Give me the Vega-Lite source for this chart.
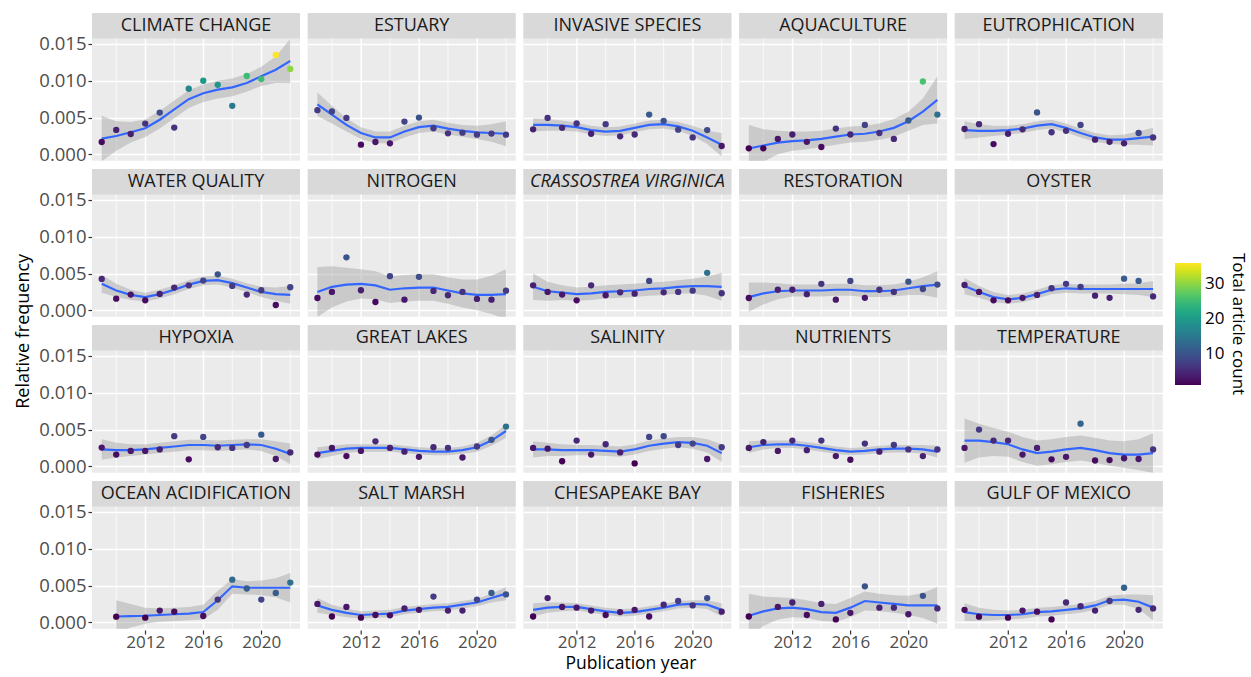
{
"$schema":"https://vega.github.io/schema/vega-lite/v6.json",
"padding":{"left":14,"top":12,"right":5,"bottom":0},
"background":"#FFFFFF",
"title":{"text":"Publication year","orient":"bottom","anchor":"middle","frame":"bounds","fontSize":17.5,"fontWeight":"normal","color":"#000000","offset":5},
"data":{"values":[
{"t":"CLIMATE CHANGE","yr":2009,"f":0.00168,"n":2,"m":0.00214,"lo":-0.00096,"hi":0.00524},
{"t":"CLIMATE CHANGE","yr":2010,"f":0.00332,"n":4,"m":0.0025,"lo":0.0005,"hi":0.0045},
{"t":"CLIMATE CHANGE","yr":2011,"f":0.00277,"n":4,"m":0.003,"lo":0.0016,"hi":0.0044},
{"t":"CLIMATE CHANGE","yr":2012,"f":0.00418,"n":6,"m":0.00355,"lo":0.00235,"hi":0.00475},
{"t":"CLIMATE CHANGE","yr":2013,"f":0.00568,"n":9,"m":0.0047,"lo":0.0035,"hi":0.0059},
{"t":"CLIMATE CHANGE","yr":2014,"f":0.00364,"n":6,"m":0.0061,"lo":0.0049,"hi":0.0073},
{"t":"CLIMATE CHANGE","yr":2015,"f":0.00891,"n":17,"m":0.0075,"lo":0.0063,"hi":0.0087},
{"t":"CLIMATE CHANGE","yr":2016,"f":0.01,"n":20,"m":0.0083,"lo":0.0071,"hi":0.0095},
{"t":"CLIMATE CHANGE","yr":2017,"f":0.00945,"n":19,"m":0.0088,"lo":0.0076,"hi":0.01},
{"t":"CLIMATE CHANGE","yr":2018,"f":0.00659,"n":15,"m":0.0091,"lo":0.0079,"hi":0.0103},
{"t":"CLIMATE CHANGE","yr":2019,"f":0.01064,"n":25,"m":0.0097,"lo":0.0085,"hi":0.0109},
{"t":"CLIMATE CHANGE","yr":2020,"f":0.01023,"n":25,"m":0.0106,"lo":0.0093,"hi":0.0119},
{"t":"CLIMATE CHANGE","yr":2021,"f":0.0135,"n":36,"m":0.0115,"lo":0.0097,"hi":0.0133},
{"t":"CLIMATE CHANGE","yr":2022,"f":0.0116,"n":30,"m":0.0127,"lo":0.0097,"hi":0.0157},
{"t":"ESTUARY","yr":2009,"f":0.006,"n":7,"m":0.0068,"lo":0.0052,"hi":0.0084},
{"t":"ESTUARY","yr":2010,"f":0.00582,"n":8,"m":0.0054,"lo":0.0042,"hi":0.0066},
{"t":"ESTUARY","yr":2011,"f":0.00495,"n":7,"m":0.004,"lo":0.0031,"hi":0.0049},
{"t":"ESTUARY","yr":2012,"f":0.00132,"n":2,"m":0.0029,"lo":0.0021,"hi":0.0037},
{"t":"ESTUARY","yr":2013,"f":0.00168,"n":3,"m":0.0023,"lo":0.0015,"hi":0.0031},
{"t":"ESTUARY","yr":2014,"f":0.0015,"n":3,"m":0.0023,"lo":0.0015,"hi":0.0031},
{"t":"ESTUARY","yr":2015,"f":0.00445,"n":8,"m":0.0031,"lo":0.0023,"hi":0.0039},
{"t":"ESTUARY","yr":2016,"f":0.005,"n":10,"m":0.0037,"lo":0.0029,"hi":0.0045},
{"t":"ESTUARY","yr":2017,"f":0.00355,"n":7,"m":0.0039,"lo":0.0031,"hi":0.0047},
{"t":"ESTUARY","yr":2018,"f":0.00286,"n":6,"m":0.0035,"lo":0.0027,"hi":0.0043},
{"t":"ESTUARY","yr":2019,"f":0.00295,"n":7,"m":0.0032,"lo":0.0024,"hi":0.004},
{"t":"ESTUARY","yr":2020,"f":0.00268,"n":7,"m":0.003,"lo":0.0021,"hi":0.0039},
{"t":"ESTUARY","yr":2021,"f":0.00282,"n":7,"m":0.0029,"lo":0.0017,"hi":0.0041},
{"t":"ESTUARY","yr":2022,"f":0.00268,"n":7,"m":0.0028,"lo":0.0011,"hi":0.0045},
{"t":"INVASIVE SPECIES","yr":2009,"f":0.0034,"n":4,"m":0.004,"lo":0.0031,"hi":0.0049},
{"t":"INVASIVE SPECIES","yr":2010,"f":0.00495,"n":6,"m":0.004,"lo":0.0032,"hi":0.0048},
{"t":"INVASIVE SPECIES","yr":2011,"f":0.0036,"n":5,"m":0.0039,"lo":0.0032,"hi":0.0046},
{"t":"INVASIVE SPECIES","yr":2012,"f":0.0042,"n":6,"m":0.0037,"lo":0.0031,"hi":0.0043},
{"t":"INVASIVE SPECIES","yr":2013,"f":0.0028,"n":4,"m":0.0033,"lo":0.0027,"hi":0.0039},
{"t":"INVASIVE SPECIES","yr":2014,"f":0.0041,"n":7,"m":0.0031,"lo":0.0025,"hi":0.0037},
{"t":"INVASIVE SPECIES","yr":2015,"f":0.00245,"n":5,"m":0.0032,"lo":0.0026,"hi":0.0038},
{"t":"INVASIVE SPECIES","yr":2016,"f":0.0027,"n":5,"m":0.0036,"lo":0.003,"hi":0.0042},
{"t":"INVASIVE SPECIES","yr":2017,"f":0.0054,"n":11,"m":0.004,"lo":0.0034,"hi":0.0046},
{"t":"INVASIVE SPECIES","yr":2018,"f":0.00455,"n":10,"m":0.0041,"lo":0.0035,"hi":0.0047},
{"t":"INVASIVE SPECIES","yr":2019,"f":0.00336,"n":8,"m":0.0038,"lo":0.0032,"hi":0.0044},
{"t":"INVASIVE SPECIES","yr":2020,"f":0.0023,"n":6,"m":0.0032,"lo":0.0025,"hi":0.0039},
{"t":"INVASIVE SPECIES","yr":2021,"f":0.0033,"n":9,"m":0.0023,"lo":0.0014,"hi":0.0032},
{"t":"INVASIVE SPECIES","yr":2022,"f":0.00114,"n":3,"m":0.0013,"lo":-0.0003,"hi":0.0029},
{"t":"AQUACULTURE","yr":2009,"f":0.00082,"n":1,"m":0.0008,"lo":-0.0024,"hi":0.004},
{"t":"AQUACULTURE","yr":2010,"f":0.00082,"n":1,"m":0.0012,"lo":-0.001,"hi":0.0034},
{"t":"AQUACULTURE","yr":2011,"f":0.0021,"n":3,"m":0.0016,"lo":0.0,"hi":0.0032},
{"t":"AQUACULTURE","yr":2012,"f":0.0027,"n":4,"m":0.0018,"lo":0.0005,"hi":0.0031},
{"t":"AQUACULTURE","yr":2013,"f":0.0017,"n":3,"m":0.0019,"lo":0.0007,"hi":0.0031},
{"t":"AQUACULTURE","yr":2014,"f":0.001,"n":2,"m":0.0021,"lo":0.001,"hi":0.0032},
{"t":"AQUACULTURE","yr":2015,"f":0.0035,"n":6,"m":0.0024,"lo":0.0013,"hi":0.0035},
{"t":"AQUACULTURE","yr":2016,"f":0.0027,"n":5,"m":0.0027,"lo":0.0016,"hi":0.0038},
{"t":"AQUACULTURE","yr":2017,"f":0.004,"n":8,"m":0.0028,"lo":0.0017,"hi":0.0039},
{"t":"AQUACULTURE","yr":2018,"f":0.0029,"n":6,"m":0.0031,"lo":0.002,"hi":0.0042},
{"t":"AQUACULTURE","yr":2019,"f":0.0021,"n":5,"m":0.0036,"lo":0.0024,"hi":0.0048},
{"t":"AQUACULTURE","yr":2020,"f":0.0046,"n":11,"m":0.0045,"lo":0.0032,"hi":0.0058},
{"t":"AQUACULTURE","yr":2021,"f":0.0099,"n":26,"m":0.0058,"lo":0.004,"hi":0.0076},
{"t":"AQUACULTURE","yr":2022,"f":0.0054,"n":14,"m":0.0074,"lo":0.0042,"hi":0.0106},
{"t":"EUTROPHICATION","yr":2009,"f":0.00345,"n":4,"m":0.0033,"lo":0.0021,"hi":0.0045},
{"t":"EUTROPHICATION","yr":2010,"f":0.0041,"n":5,"m":0.0032,"lo":0.0023,"hi":0.0041},
{"t":"EUTROPHICATION","yr":2011,"f":0.0014,"n":2,"m":0.0032,"lo":0.0025,"hi":0.0039},
{"t":"EUTROPHICATION","yr":2012,"f":0.0028,"n":4,"m":0.0033,"lo":0.0027,"hi":0.0039},
{"t":"EUTROPHICATION","yr":2013,"f":0.0034,"n":5,"m":0.0035,"lo":0.0029,"hi":0.0041},
{"t":"EUTROPHICATION","yr":2014,"f":0.0057,"n":10,"m":0.0039,"lo":0.0033,"hi":0.0045},
{"t":"EUTROPHICATION","yr":2015,"f":0.003,"n":6,"m":0.0041,"lo":0.0035,"hi":0.0047},
{"t":"EUTROPHICATION","yr":2016,"f":0.0032,"n":6,"m":0.0036,"lo":0.003,"hi":0.0042},
{"t":"EUTROPHICATION","yr":2017,"f":0.004,"n":8,"m":0.0029,"lo":0.0023,"hi":0.0035},
{"t":"EUTROPHICATION","yr":2018,"f":0.002,"n":4,"m":0.0023,"lo":0.0017,"hi":0.0029},
{"t":"EUTROPHICATION","yr":2019,"f":0.0017,"n":4,"m":0.002,"lo":0.0014,"hi":0.0026},
{"t":"EUTROPHICATION","yr":2020,"f":0.0015,"n":4,"m":0.002,"lo":0.0013,"hi":0.0027},
{"t":"EUTROPHICATION","yr":2021,"f":0.0029,"n":8,"m":0.0022,"lo":0.0013,"hi":0.0031},
{"t":"EUTROPHICATION","yr":2022,"f":0.0023,"n":6,"m":0.0024,"lo":0.0012,"hi":0.0036},
{"t":"WATER QUALITY","yr":2009,"f":0.00427,"n":5,"m":0.0036,"lo":0.0024,"hi":0.0048},
{"t":"WATER QUALITY","yr":2010,"f":0.00159,"n":2,"m":0.0027,"lo":0.0018,"hi":0.0036},
{"t":"WATER QUALITY","yr":2011,"f":0.00214,"n":3,"m":0.0021,"lo":0.0014,"hi":0.0028},
{"t":"WATER QUALITY","yr":2012,"f":0.00136,"n":2,"m":0.0018,"lo":0.0012,"hi":0.0024},
{"t":"WATER QUALITY","yr":2013,"f":0.00223,"n":4,"m":0.0022,"lo":0.0016,"hi":0.0028},
{"t":"WATER QUALITY","yr":2014,"f":0.00309,"n":5,"m":0.0028,"lo":0.0022,"hi":0.0034},
{"t":"WATER QUALITY","yr":2015,"f":0.0034,"n":6,"m":0.0035,"lo":0.0029,"hi":0.0041},
{"t":"WATER QUALITY","yr":2016,"f":0.00405,"n":8,"m":0.004,"lo":0.0034,"hi":0.0046},
{"t":"WATER QUALITY","yr":2017,"f":0.0049,"n":10,"m":0.0041,"lo":0.0035,"hi":0.0047},
{"t":"WATER QUALITY","yr":2018,"f":0.00332,"n":7,"m":0.0037,"lo":0.0031,"hi":0.0043},
{"t":"WATER QUALITY","yr":2019,"f":0.00214,"n":5,"m":0.0031,"lo":0.0025,"hi":0.0037},
{"t":"WATER QUALITY","yr":2020,"f":0.00273,"n":7,"m":0.0025,"lo":0.0018,"hi":0.0032},
{"t":"WATER QUALITY","yr":2021,"f":0.00073,"n":2,"m":0.0022,"lo":0.0013,"hi":0.0031},
{"t":"WATER QUALITY","yr":2022,"f":0.00314,"n":8,"m":0.0021,"lo":0.0009,"hi":0.0033},
{"t":"NITROGEN","yr":2009,"f":0.00168,"n":2,"m":0.0025,"lo":-0.0009,"hi":0.0059},
{"t":"NITROGEN","yr":2010,"f":0.0025,"n":3,"m":0.0032,"lo":0.0004,"hi":0.006},
{"t":"NITROGEN","yr":2011,"f":0.0072,"n":10,"m":0.0035,"lo":0.0012,"hi":0.0058},
{"t":"NITROGEN","yr":2012,"f":0.00273,"n":4,"m":0.0036,"lo":0.0016,"hi":0.0056},
{"t":"NITROGEN","yr":2013,"f":0.00114,"n":2,"m":0.0034,"lo":0.0015,"hi":0.0053},
{"t":"NITROGEN","yr":2014,"f":0.00464,"n":8,"m":0.0028,"lo":0.001,"hi":0.0046},
{"t":"NITROGEN","yr":2015,"f":0.00145,"n":3,"m":0.003,"lo":0.0012,"hi":0.0048},
{"t":"NITROGEN","yr":2016,"f":0.00455,"n":9,"m":0.0031,"lo":0.0013,"hi":0.0049},
{"t":"NITROGEN","yr":2017,"f":0.00264,"n":5,"m":0.0031,"lo":0.0013,"hi":0.0049},
{"t":"NITROGEN","yr":2018,"f":0.00205,"n":5,"m":0.0027,"lo":0.0009,"hi":0.0045},
{"t":"NITROGEN","yr":2019,"f":0.0025,"n":6,"m":0.0023,"lo":0.0004,"hi":0.0042},
{"t":"NITROGEN","yr":2020,"f":0.00155,"n":4,"m":0.0021,"lo":0.0,"hi":0.0042},
{"t":"NITROGEN","yr":2021,"f":0.00145,"n":4,"m":0.0021,"lo":-0.0005,"hi":0.0047},
{"t":"NITROGEN","yr":2022,"f":0.00268,"n":7,"m":0.0022,"lo":-0.0012,"hi":0.0056},
{"t":"CRASSOSTREA VIRGINICA","yr":2009,"f":0.0034,"n":4,"m":0.0032,"lo":0.0014,"hi":0.005},
{"t":"CRASSOSTREA VIRGINICA","yr":2010,"f":0.0025,"n":3,"m":0.0026,"lo":0.0013,"hi":0.0039},
{"t":"CRASSOSTREA VIRGINICA","yr":2011,"f":0.00214,"n":3,"m":0.0024,"lo":0.0014,"hi":0.0034},
{"t":"CRASSOSTREA VIRGINICA","yr":2012,"f":0.00136,"n":2,"m":0.0022,"lo":0.0013,"hi":0.0031},
{"t":"CRASSOSTREA VIRGINICA","yr":2013,"f":0.0034,"n":5,"m":0.0023,"lo":0.0014,"hi":0.0032},
{"t":"CRASSOSTREA VIRGINICA","yr":2014,"f":0.00205,"n":3,"m":0.0025,"lo":0.0016,"hi":0.0034},
{"t":"CRASSOSTREA VIRGINICA","yr":2015,"f":0.00245,"n":5,"m":0.0026,"lo":0.0017,"hi":0.0035},
{"t":"CRASSOSTREA VIRGINICA","yr":2016,"f":0.00227,"n":4,"m":0.0027,"lo":0.0018,"hi":0.0036},
{"t":"CRASSOSTREA VIRGINICA","yr":2017,"f":0.004,"n":8,"m":0.0029,"lo":0.002,"hi":0.0038},
{"t":"CRASSOSTREA VIRGINICA","yr":2018,"f":0.00245,"n":5,"m":0.003,"lo":0.0021,"hi":0.0039},
{"t":"CRASSOSTREA VIRGINICA","yr":2019,"f":0.0025,"n":6,"m":0.0032,"lo":0.0023,"hi":0.0041},
{"t":"CRASSOSTREA VIRGINICA","yr":2020,"f":0.00268,"n":7,"m":0.0033,"lo":0.0023,"hi":0.0043},
{"t":"CRASSOSTREA VIRGINICA","yr":2021,"f":0.0051,"n":14,"m":0.0033,"lo":0.002,"hi":0.0046},
{"t":"CRASSOSTREA VIRGINICA","yr":2022,"f":0.00232,"n":6,"m":0.0032,"lo":0.0013,"hi":0.0051},
{"t":"RESTORATION","yr":2009,"f":0.00168,"n":2,"m":0.0018,"lo":-0.0002,"hi":0.0038},
{"t":"RESTORATION","yr":2010,"m":0.0023,"lo":0.0008,"hi":0.0038},
{"t":"RESTORATION","yr":2011,"f":0.0028,"n":4,"m":0.0026,"lo":0.0015,"hi":0.0037},
{"t":"RESTORATION","yr":2012,"f":0.0028,"n":4,"m":0.0027,"lo":0.0019,"hi":0.0035},
{"t":"RESTORATION","yr":2013,"f":0.0022,"n":4,"m":0.0027,"lo":0.0019,"hi":0.0035},
{"t":"RESTORATION","yr":2014,"f":0.0036,"n":6,"m":0.0027,"lo":0.0019,"hi":0.0035},
{"t":"RESTORATION","yr":2015,"f":0.00145,"n":3,"m":0.0028,"lo":0.002,"hi":0.0036},
{"t":"RESTORATION","yr":2016,"f":0.004,"n":8,"m":0.0028,"lo":0.002,"hi":0.0036},
{"t":"RESTORATION","yr":2017,"f":0.0017,"n":3,"m":0.0026,"lo":0.0018,"hi":0.0034},
{"t":"RESTORATION","yr":2018,"f":0.0028,"n":6,"m":0.0026,"lo":0.0018,"hi":0.0034},
{"t":"RESTORATION","yr":2019,"f":0.0025,"n":6,"m":0.0027,"lo":0.0019,"hi":0.0035},
{"t":"RESTORATION","yr":2020,"f":0.0039,"n":10,"m":0.003,"lo":0.0021,"hi":0.0039},
{"t":"RESTORATION","yr":2021,"f":0.0029,"n":8,"m":0.0033,"lo":0.0021,"hi":0.0045},
{"t":"RESTORATION","yr":2022,"f":0.0035,"n":9,"m":0.0035,"lo":0.0017,"hi":0.0053},
{"t":"OYSTER","yr":2009,"f":0.00345,"n":4,"m":0.0033,"lo":0.0022,"hi":0.0044},
{"t":"OYSTER","yr":2010,"f":0.0025,"n":3,"m":0.0025,"lo":0.0017,"hi":0.0033},
{"t":"OYSTER","yr":2011,"f":0.00136,"n":2,"m":0.0018,"lo":0.0011,"hi":0.0025},
{"t":"OYSTER","yr":2012,"f":0.00136,"n":2,"m":0.0015,"lo":0.0009,"hi":0.0021},
{"t":"OYSTER","yr":2013,"f":0.0017,"n":3,"m":0.0017,"lo":0.0011,"hi":0.0023},
{"t":"OYSTER","yr":2014,"f":0.0021,"n":4,"m":0.0022,"lo":0.0016,"hi":0.0028},
{"t":"OYSTER","yr":2015,"f":0.003,"n":6,"m":0.0028,"lo":0.0022,"hi":0.0034},
{"t":"OYSTER","yr":2016,"f":0.0036,"n":7,"m":0.003,"lo":0.0024,"hi":0.0036},
{"t":"OYSTER","yr":2017,"f":0.0032,"n":7,"m":0.0029,"lo":0.0023,"hi":0.0035},
{"t":"OYSTER","yr":2018,"f":0.002,"n":4,"m":0.0029,"lo":0.0023,"hi":0.0035},
{"t":"OYSTER","yr":2019,"f":0.0017,"n":4,"m":0.0029,"lo":0.0023,"hi":0.0035},
{"t":"OYSTER","yr":2020,"f":0.0043,"n":11,"m":0.0029,"lo":0.0022,"hi":0.0036},
{"t":"OYSTER","yr":2021,"f":0.004,"n":11,"m":0.0029,"lo":0.0021,"hi":0.0037},
{"t":"OYSTER","yr":2022,"f":0.0019,"n":5,"m":0.0029,"lo":0.0018,"hi":0.004},
{"t":"HYPOXIA","yr":2009,"f":0.00255,"n":3,"m":0.0023,"lo":0.0009,"hi":0.0037},
{"t":"HYPOXIA","yr":2010,"f":0.0016,"n":2,"m":0.0022,"lo":0.0012,"hi":0.0032},
{"t":"HYPOXIA","yr":2011,"f":0.0021,"n":3,"m":0.0022,"lo":0.0014,"hi":0.003},
{"t":"HYPOXIA","yr":2012,"f":0.0021,"n":3,"m":0.0023,"lo":0.0016,"hi":0.003},
{"t":"HYPOXIA","yr":2013,"f":0.0023,"n":4,"m":0.0025,"lo":0.0018,"hi":0.0032},
{"t":"HYPOXIA","yr":2014,"f":0.0041,"n":7,"m":0.0027,"lo":0.002,"hi":0.0034},
{"t":"HYPOXIA","yr":2015,"f":0.00095,"n":2,"m":0.0029,"lo":0.0022,"hi":0.0036},
{"t":"HYPOXIA","yr":2016,"f":0.004,"n":8,"m":0.0029,"lo":0.0022,"hi":0.0036},
{"t":"HYPOXIA","yr":2017,"f":0.0026,"n":5,"m":0.0028,"lo":0.0021,"hi":0.0035},
{"t":"HYPOXIA","yr":2018,"f":0.0025,"n":6,"m":0.0029,"lo":0.0022,"hi":0.0036},
{"t":"HYPOXIA","yr":2019,"f":0.0029,"n":7,"m":0.003,"lo":0.0023,"hi":0.0037},
{"t":"HYPOXIA","yr":2020,"f":0.0043,"n":11,"m":0.0029,"lo":0.0021,"hi":0.0037},
{"t":"HYPOXIA","yr":2021,"f":0.001,"n":3,"m":0.0024,"lo":0.0014,"hi":0.0034},
{"t":"HYPOXIA","yr":2022,"f":0.0019,"n":5,"m":0.0017,"lo":0.0003,"hi":0.0031},
{"t":"GREAT LAKES","yr":2009,"f":0.0016,"n":2,"m":0.0018,"lo":0.001,"hi":0.0026},
{"t":"GREAT LAKES","yr":2010,"f":0.0025,"n":3,"m":0.0021,"lo":0.0014,"hi":0.0028},
{"t":"GREAT LAKES","yr":2011,"f":0.0014,"n":2,"m":0.0024,"lo":0.0018,"hi":0.003},
{"t":"GREAT LAKES","yr":2012,"f":0.0021,"n":3,"m":0.0025,"lo":0.002,"hi":0.003},
{"t":"GREAT LAKES","yr":2013,"f":0.0034,"n":5,"m":0.0025,"lo":0.002,"hi":0.003},
{"t":"GREAT LAKES","yr":2014,"f":0.0025,"n":4,"m":0.0025,"lo":0.002,"hi":0.003},
{"t":"GREAT LAKES","yr":2015,"f":0.002,"n":4,"m":0.0023,"lo":0.0018,"hi":0.0028},
{"t":"GREAT LAKES","yr":2016,"f":0.0013,"n":3,"m":0.0021,"lo":0.0016,"hi":0.0026},
{"t":"GREAT LAKES","yr":2017,"f":0.0026,"n":5,"m":0.002,"lo":0.0015,"hi":0.0025},
{"t":"GREAT LAKES","yr":2018,"f":0.0025,"n":6,"m":0.002,"lo":0.0015,"hi":0.0025},
{"t":"GREAT LAKES","yr":2019,"f":0.0012,"n":3,"m":0.0022,"lo":0.0017,"hi":0.0027},
{"t":"GREAT LAKES","yr":2020,"f":0.0027,"n":7,"m":0.0026,"lo":0.002,"hi":0.0032},
{"t":"GREAT LAKES","yr":2021,"f":0.0036,"n":10,"m":0.0035,"lo":0.0028,"hi":0.0042},
{"t":"GREAT LAKES","yr":2022,"f":0.0054,"n":14,"m":0.0048,"lo":0.0039,"hi":0.0057},
{"t":"SALINITY","yr":2009,"f":0.0025,"n":3,"m":0.0023,"lo":0.0012,"hi":0.0034},
{"t":"SALINITY","yr":2010,"f":0.0024,"n":3,"m":0.0023,"lo":0.0014,"hi":0.0032},
{"t":"SALINITY","yr":2011,"f":0.0007,"n":1,"m":0.0022,"lo":0.0014,"hi":0.003},
{"t":"SALINITY","yr":2012,"f":0.0035,"n":5,"m":0.0022,"lo":0.0015,"hi":0.0029},
{"t":"SALINITY","yr":2013,"f":0.0016,"n":3,"m":0.0022,"lo":0.0015,"hi":0.0029},
{"t":"SALINITY","yr":2014,"f":0.003,"n":5,"m":0.0021,"lo":0.0014,"hi":0.0028},
{"t":"SALINITY","yr":2015,"f":0.0019,"n":4,"m":0.002,"lo":0.0013,"hi":0.0027},
{"t":"SALINITY","yr":2016,"f":0.0004,"n":1,"m":0.0023,"lo":0.0016,"hi":0.003},
{"t":"SALINITY","yr":2017,"f":0.004,"n":8,"m":0.0028,"lo":0.0021,"hi":0.0035},
{"t":"SALINITY","yr":2018,"f":0.0041,"n":9,"m":0.0031,"lo":0.0024,"hi":0.0038},
{"t":"SALINITY","yr":2019,"f":0.0029,"n":7,"m":0.0033,"lo":0.0026,"hi":0.004},
{"t":"SALINITY","yr":2020,"f":0.0031,"n":8,"m":0.0032,"lo":0.0024,"hi":0.004},
{"t":"SALINITY","yr":2021,"f":0.001,"n":3,"m":0.0028,"lo":0.0019,"hi":0.0037},
{"t":"SALINITY","yr":2022,"f":0.0026,"n":7,"m":0.0018,"lo":0.0006,"hi":0.003},
{"t":"NUTRIENTS","yr":2009,"f":0.0025,"n":3,"m":0.0026,"lo":0.0018,"hi":0.0034},
{"t":"NUTRIENTS","yr":2010,"f":0.0033,"n":4,"m":0.0029,"lo":0.0023,"hi":0.0035},
{"t":"NUTRIENTS","yr":2011,"f":0.0021,"n":3,"m":0.003,"lo":0.0025,"hi":0.0035},
{"t":"NUTRIENTS","yr":2012,"f":0.0035,"n":5,"m":0.003,"lo":0.0025,"hi":0.0035},
{"t":"NUTRIENTS","yr":2013,"f":0.0022,"n":4,"m":0.0028,"lo":0.0023,"hi":0.0033},
{"t":"NUTRIENTS","yr":2014,"f":0.0035,"n":6,"m":0.0025,"lo":0.002,"hi":0.003},
{"t":"NUTRIENTS","yr":2015,"f":0.0014,"n":3,"m":0.0022,"lo":0.0017,"hi":0.0027},
{"t":"NUTRIENTS","yr":2016,"f":0.0009,"n":2,"m":0.002,"lo":0.0015,"hi":0.0025},
{"t":"NUTRIENTS","yr":2017,"f":0.0031,"n":6,"m":0.0021,"lo":0.0016,"hi":0.0026},
{"t":"NUTRIENTS","yr":2018,"f":0.002,"n":4,"m":0.0023,"lo":0.0018,"hi":0.0028},
{"t":"NUTRIENTS","yr":2019,"f":0.0029,"n":7,"m":0.0024,"lo":0.0019,"hi":0.0029},
{"t":"NUTRIENTS","yr":2020,"f":0.0023,"n":6,"m":0.0024,"lo":0.0019,"hi":0.0029},
{"t":"NUTRIENTS","yr":2021,"f":0.0014,"n":4,"m":0.0023,"lo":0.0017,"hi":0.0029},
{"t":"NUTRIENTS","yr":2022,"f":0.0023,"n":6,"m":0.002,"lo":0.0012,"hi":0.0028},
{"t":"TEMPERATURE","yr":2009,"f":0.0025,"n":3,"m":0.0035,"lo":0.0005,"hi":0.0065},
{"t":"TEMPERATURE","yr":2010,"f":0.005,"n":7,"m":0.0035,"lo":0.0012,"hi":0.0058},
{"t":"TEMPERATURE","yr":2011,"f":0.0035,"n":5,"m":0.0033,"lo":0.0014,"hi":0.0052},
{"t":"TEMPERATURE","yr":2012,"f":0.0035,"n":5,"m":0.003,"lo":0.0013,"hi":0.0047},
{"t":"TEMPERATURE","yr":2013,"f":0.0016,"n":3,"m":0.0023,"lo":0.0006,"hi":0.004},
{"t":"TEMPERATURE","yr":2014,"f":0.0025,"n":4,"m":0.0018,"lo":0.0001,"hi":0.0035},
{"t":"TEMPERATURE","yr":2015,"f":0.00095,"n":2,"m":0.002,"lo":0.0003,"hi":0.0037},
{"t":"TEMPERATURE","yr":2016,"f":0.0013,"n":3,"m":0.0023,"lo":0.0006,"hi":0.004},
{"t":"TEMPERATURE","yr":2017,"f":0.0058,"n":12,"m":0.0025,"lo":0.0008,"hi":0.0042},
{"t":"TEMPERATURE","yr":2018,"f":0.0008,"n":2,"m":0.0022,"lo":0.0005,"hi":0.0039},
{"t":"TEMPERATURE","yr":2019,"f":0.00085,"n":2,"m":0.0018,"lo":0.0001,"hi":0.0035},
{"t":"TEMPERATURE","yr":2020,"f":0.0011,"n":3,"m":0.0016,"lo":-0.0002,"hi":0.0034},
{"t":"TEMPERATURE","yr":2021,"f":0.001,"n":3,"m":0.0016,"lo":-0.0005,"hi":0.0037},
{"t":"TEMPERATURE","yr":2022,"f":0.0023,"n":6,"m":0.0018,"lo":-0.0009,"hi":0.0045},
{"t":"OCEAN ACIDIFICATION","yr":2010,"f":0.00077,"n":1,"m":0.0008,"lo":-0.0014,"hi":0.003},
{"t":"OCEAN ACIDIFICATION","yr":2011,"m":0.00086,"lo":-0.0007,"hi":0.0025},
{"t":"OCEAN ACIDIFICATION","yr":2012,"f":0.00064,"n":1,"m":0.0009,"lo":-0.0002,"hi":0.002},
{"t":"OCEAN ACIDIFICATION","yr":2013,"f":0.0016,"n":3,"m":0.001,"lo":0.0001,"hi":0.0019},
{"t":"OCEAN ACIDIFICATION","yr":2014,"f":0.00145,"n":2,"m":0.0011,"lo":0.0002,"hi":0.002},
{"t":"OCEAN ACIDIFICATION","yr":2015,"m":0.0012,"lo":0.0003,"hi":0.0021},
{"t":"OCEAN ACIDIFICATION","yr":2016,"f":0.00086,"n":2,"m":0.0014,"lo":0.0004,"hi":0.0024},
{"t":"OCEAN ACIDIFICATION","yr":2017,"f":0.0031,"n":6,"m":0.003,"lo":0.0017,"hi":0.0043},
{"t":"OCEAN ACIDIFICATION","yr":2018,"f":0.0058,"n":13,"m":0.0049,"lo":0.0039,"hi":0.0059},
{"t":"OCEAN ACIDIFICATION","yr":2019,"f":0.0046,"n":11,"m":0.0047,"lo":0.0038,"hi":0.0056},
{"t":"OCEAN ACIDIFICATION","yr":2020,"f":0.0031,"n":8,"m":0.0047,"lo":0.0037,"hi":0.0057},
{"t":"OCEAN ACIDIFICATION","yr":2021,"f":0.004,"n":11,"m":0.0047,"lo":0.0034,"hi":0.006},
{"t":"OCEAN ACIDIFICATION","yr":2022,"f":0.0054,"n":14,"m":0.0047,"lo":0.0027,"hi":0.0067},
{"t":"SALT MARSH","yr":2009,"f":0.0025,"n":3,"m":0.0023,"lo":0.0013,"hi":0.0033},
{"t":"SALT MARSH","yr":2010,"f":0.0008,"n":1,"m":0.0017,"lo":0.001,"hi":0.0024},
{"t":"SALT MARSH","yr":2011,"f":0.0021,"n":3,"m":0.0013,"lo":0.0007,"hi":0.0019},
{"t":"SALT MARSH","yr":2012,"f":0.00064,"n":1,"m":0.001,"lo":0.0005,"hi":0.0015},
{"t":"SALT MARSH","yr":2013,"f":0.001,"n":2,"m":0.0011,"lo":0.0006,"hi":0.0016},
{"t":"SALT MARSH","yr":2014,"f":0.00095,"n":2,"m":0.0012,"lo":0.0007,"hi":0.0017},
{"t":"SALT MARSH","yr":2015,"f":0.0019,"n":4,"m":0.0016,"lo":0.0011,"hi":0.0021},
{"t":"SALT MARSH","yr":2016,"f":0.0017,"n":3,"m":0.0018,"lo":0.0013,"hi":0.0023},
{"t":"SALT MARSH","yr":2017,"f":0.0035,"n":7,"m":0.002,"lo":0.0015,"hi":0.0025},
{"t":"SALT MARSH","yr":2018,"f":0.0016,"n":4,"m":0.0021,"lo":0.0016,"hi":0.0026},
{"t":"SALT MARSH","yr":2019,"f":0.0016,"n":4,"m":0.0024,"lo":0.0019,"hi":0.0029},
{"t":"SALT MARSH","yr":2020,"f":0.0031,"n":8,"m":0.0027,"lo":0.0022,"hi":0.0032},
{"t":"SALT MARSH","yr":2021,"f":0.004,"n":11,"m":0.0033,"lo":0.0027,"hi":0.0039},
{"t":"SALT MARSH","yr":2022,"f":0.0038,"n":10,"m":0.0039,"lo":0.003,"hi":0.0048},
{"t":"CHESAPEAKE BAY","yr":2009,"f":0.0008,"n":1,"m":0.0017,"lo":0.0008,"hi":0.0026},
{"t":"CHESAPEAKE BAY","yr":2010,"f":0.0033,"n":4,"m":0.002,"lo":0.0013,"hi":0.0027},
{"t":"CHESAPEAKE BAY","yr":2011,"f":0.0021,"n":3,"m":0.0021,"lo":0.0015,"hi":0.0027},
{"t":"CHESAPEAKE BAY","yr":2012,"f":0.002,"n":3,"m":0.0021,"lo":0.0016,"hi":0.0026},
{"t":"CHESAPEAKE BAY","yr":2013,"f":0.0016,"n":3,"m":0.0018,"lo":0.0013,"hi":0.0023},
{"t":"CHESAPEAKE BAY","yr":2014,"f":0.001,"n":2,"m":0.0015,"lo":0.001,"hi":0.002},
{"t":"CHESAPEAKE BAY","yr":2015,"f":0.0014,"n":3,"m":0.0013,"lo":0.0008,"hi":0.0018},
{"t":"CHESAPEAKE BAY","yr":2016,"f":0.0017,"n":3,"m":0.0014,"lo":0.0009,"hi":0.0019},
{"t":"CHESAPEAKE BAY","yr":2017,"f":0.0008,"n":2,"m":0.0017,"lo":0.0012,"hi":0.0022},
{"t":"CHESAPEAKE BAY","yr":2018,"f":0.0024,"n":5,"m":0.002,"lo":0.0015,"hi":0.0025},
{"t":"CHESAPEAKE BAY","yr":2019,"f":0.0029,"n":7,"m":0.0024,"lo":0.0019,"hi":0.0029},
{"t":"CHESAPEAKE BAY","yr":2020,"f":0.0023,"n":6,"m":0.0025,"lo":0.002,"hi":0.003},
{"t":"CHESAPEAKE BAY","yr":2021,"f":0.0033,"n":9,"m":0.0024,"lo":0.0018,"hi":0.003},
{"t":"CHESAPEAKE BAY","yr":2022,"f":0.00145,"n":4,"m":0.0017,"lo":0.0008,"hi":0.0026},
{"t":"FISHERIES","yr":2009,"f":0.0008,"n":1,"m":0.0009,"lo":-0.0021,"hi":0.0039},
{"t":"FISHERIES","yr":2010,"m":0.0015,"lo":-0.0005,"hi":0.0035},
{"t":"FISHERIES","yr":2011,"f":0.0021,"n":3,"m":0.0019,"lo":0.0004,"hi":0.0034},
{"t":"FISHERIES","yr":2012,"f":0.0027,"n":4,"m":0.002,"lo":0.0007,"hi":0.0033},
{"t":"FISHERIES","yr":2013,"f":0.001,"n":2,"m":0.0018,"lo":0.0006,"hi":0.003},
{"t":"FISHERIES","yr":2014,"f":0.0025,"n":4,"m":0.0014,"lo":0.0002,"hi":0.0026},
{"t":"FISHERIES","yr":2015,"f":0.0004,"n":1,"m":0.0013,"lo":0.0001,"hi":0.0025},
{"t":"FISHERIES","yr":2016,"f":0.0013,"n":3,"m":0.002,"lo":0.0007,"hi":0.0033},
{"t":"FISHERIES","yr":2017,"f":0.0049,"n":10,"m":0.0029,"lo":0.0016,"hi":0.0042},
{"t":"FISHERIES","yr":2018,"f":0.002,"n":4,"m":0.0027,"lo":0.0015,"hi":0.0039},
{"t":"FISHERIES","yr":2019,"f":0.002,"n":5,"m":0.0025,"lo":0.0013,"hi":0.0037},
{"t":"FISHERIES","yr":2020,"f":0.0011,"n":3,"m":0.0023,"lo":0.001,"hi":0.0036},
{"t":"FISHERIES","yr":2021,"f":0.0036,"n":10,"m":0.0023,"lo":0.0006,"hi":0.004},
{"t":"FISHERIES","yr":2022,"f":0.0019,"n":5,"m":0.0023,"lo":-0.0002,"hi":0.0048},
{"t":"GULF OF MEXICO","yr":2009,"f":0.0017,"n":2,"m":0.0014,"lo":0.0002,"hi":0.0026},
{"t":"GULF OF MEXICO","yr":2010,"f":0.00077,"n":1,"m":0.0011,"lo":0.0002,"hi":0.002},
{"t":"GULF OF MEXICO","yr":2011,"m":0.001,"lo":0.0003,"hi":0.0017},
{"t":"GULF OF MEXICO","yr":2012,"f":0.00064,"n":1,"m":0.001,"lo":0.0004,"hi":0.0016},
{"t":"GULF OF MEXICO","yr":2013,"f":0.0016,"n":3,"m":0.0011,"lo":0.0005,"hi":0.0017},
{"t":"GULF OF MEXICO","yr":2014,"f":0.00145,"n":2,"m":0.0014,"lo":0.0008,"hi":0.002},
{"t":"GULF OF MEXICO","yr":2015,"f":0.0004,"n":1,"m":0.0015,"lo":0.0009,"hi":0.0021},
{"t":"GULF OF MEXICO","yr":2016,"f":0.0027,"n":5,"m":0.0017,"lo":0.0011,"hi":0.0023},
{"t":"GULF OF MEXICO","yr":2017,"f":0.0022,"n":5,"m":0.0019,"lo":0.0013,"hi":0.0025},
{"t":"GULF OF MEXICO","yr":2018,"f":0.0016,"n":4,"m":0.0023,"lo":0.0017,"hi":0.0029},
{"t":"GULF OF MEXICO","yr":2019,"f":0.0029,"n":7,"m":0.003,"lo":0.0024,"hi":0.0036},
{"t":"GULF OF MEXICO","yr":2020,"f":0.0047,"n":12,"m":0.0031,"lo":0.0024,"hi":0.0038},
{"t":"GULF OF MEXICO","yr":2021,"f":0.0017,"n":5,"m":0.0028,"lo":0.0018,"hi":0.0038},
{"t":"GULF OF MEXICO","yr":2022,"f":0.0019,"n":5,"m":0.002,"lo":0.0003,"hi":0.0037}
]},
"vconcat":[{
"title":{"text":"Relative frequency","orient":"left","anchor":"middle","fontSize":18,"fontWeight":"normal","color":"#000000","offset":6},
"facet":{"field":"t","type":"nominal","sort":["CLIMATE CHANGE","ESTUARY","INVASIVE SPECIES","AQUACULTURE","EUTROPHICATION","WATER QUALITY","NITROGEN","CRASSOSTREA VIRGINICA","RESTORATION","OYSTER","HYPOXIA","GREAT LAKES","SALINITY","NUTRIENTS","TEMPERATURE","OCEAN ACIDIFICATION","SALT MARSH","CHESAPEAKE BAY","FISHERIES","GULF OF MEXICO"],
 "header":{"title":null,"labelFontSize":0,"labelPadding":0}},
"columns":5,
"spacing":{"row":6,"column":7.7},
"spec":{
 "width":208,"height":147.7,
 "layer":[
  {"transform":[{"filter":"datum.yr === 2010 || datum.yr === 2014 || datum.yr === 2018 || datum.yr === 2022"}],
   "mark":{"type":"rule","color":"#FFFFFF","strokeWidth":0.75},
   "encoding":{
    "x":{"field":"yr","type":"quantitative","title":null,"scale":{"domain":[2008.33,2022.67],"nice":false,"zero":false},
      "axis":{"title":null,"values":[2012,2016,2020],"format":"d","labelOverlap":false,"labelPadding":0,"labelFontSize":17,"gridWidth":1.5}}
   }},
  {"mark":{"type":"area","color":"#999999","opacity":0.4,"clip":true},
   "encoding":{
    "x":{"field":"yr","type":"quantitative","title":null},
    "y":{"field":"lo","type":"quantitative","title":null,"scale":{"domain":[-0.00086,0.0192],"nice":false,"zero":false},
      "axis":{"title":null,"labelOverlap":false,"values":[0,0.0025,0.005,0.0075,0.01,0.0125,0.015],"labelExpr":"round(datum.value*2000) % 10 === 0 ? format(datum.value, '.3f') : ''","tickOpacity":{"condition":{"test":"round(datum.value*2000) % 10 === 0","value":1},"value":0},"gridWidth":{"condition":{"test":"round(datum.value*2000) % 10 === 0","value":1.5},"value":0.75}}},
    "y2":{"field":"hi"}
   }},
  {"mark":{"type":"line","color":"#3366FF","strokeWidth":2.2,"clip":true},
   "encoding":{
    "x":{"field":"yr","type":"quantitative","title":null},
    "y":{"field":"m","type":"quantitative","title":null}
   }},
  {"mark":{"type":"circle","size":40,"opacity":1},
   "encoding":{
    "x":{"field":"yr","type":"quantitative","title":null},
    "y":{"field":"f","type":"quantitative","title":null},
    "color":{"field":"n","type":"quantitative","title":"Total article count","scale":{"scheme":"viridis","domain":[1,36]},
      "legend":{"orient":"none","legendX":1083,"legendY":250,"direction":"vertical","gradientLength":122,"gradientThickness":26,"gradientStrokeWidth":0,"values":[10,20,30],"titleOrient":"right","titleAngle":-90,"labelFontSize":17,"labelColor":"#000000","titleFontSize":17,"titleFontWeight":"normal","titleColor":"#000000","labelOffset":4}}
   }},
  {"transform":[{"aggregate":[{"op":"count","as":"k"}],"groupby":["t"]}],
   "mark":{"type":"rect","color":"#D9D9D9"},
   "encoding":{
    "x":{"datum":2008.33},"x2":{"datum":2022.67},
    "y":{"datum":0.01572},"y2":{"datum":0.0192}
   }},
  {"transform":[{"filter":"datum.t !== 'CRASSOSTREA VIRGINICA'"},{"aggregate":[{"op":"count","as":"k"}],"groupby":["t"]}],
   "mark":{"type":"text","fontSize":18,"color":"#1A1A1A","baseline":"middle","align":"center"},
   "encoding":{
    "x":{"datum":2015.5},"y":{"datum":0.01746},
    "text":{"field":"t"}
   }},
  {"transform":[{"filter":"datum.t === 'CRASSOSTREA VIRGINICA'"},{"aggregate":[{"op":"count","as":"k"}],"groupby":["t"]}],
   "mark":{"type":"text","fontSize":18,"fontStyle":"italic","color":"#1A1A1A","baseline":"middle","align":"center"},
   "encoding":{
    "x":{"datum":2015.5},"y":{"datum":0.01746},
    "text":{"field":"t"}
   }}
 ]
}
}],
"config":{
 "font":"Open Sans",
 "view":{"fill":"#EBEBEB","stroke":null},
 "axis":{"domain":false,"gridColor":"#FFFFFF","tickColor":"#333333","tickSize":4,"tickWidth":1.2,"labelColor":"#4D4D4D","labelFontSize":18.5,"labelPadding":2,"titleFontWeight":"normal"}
}
}
